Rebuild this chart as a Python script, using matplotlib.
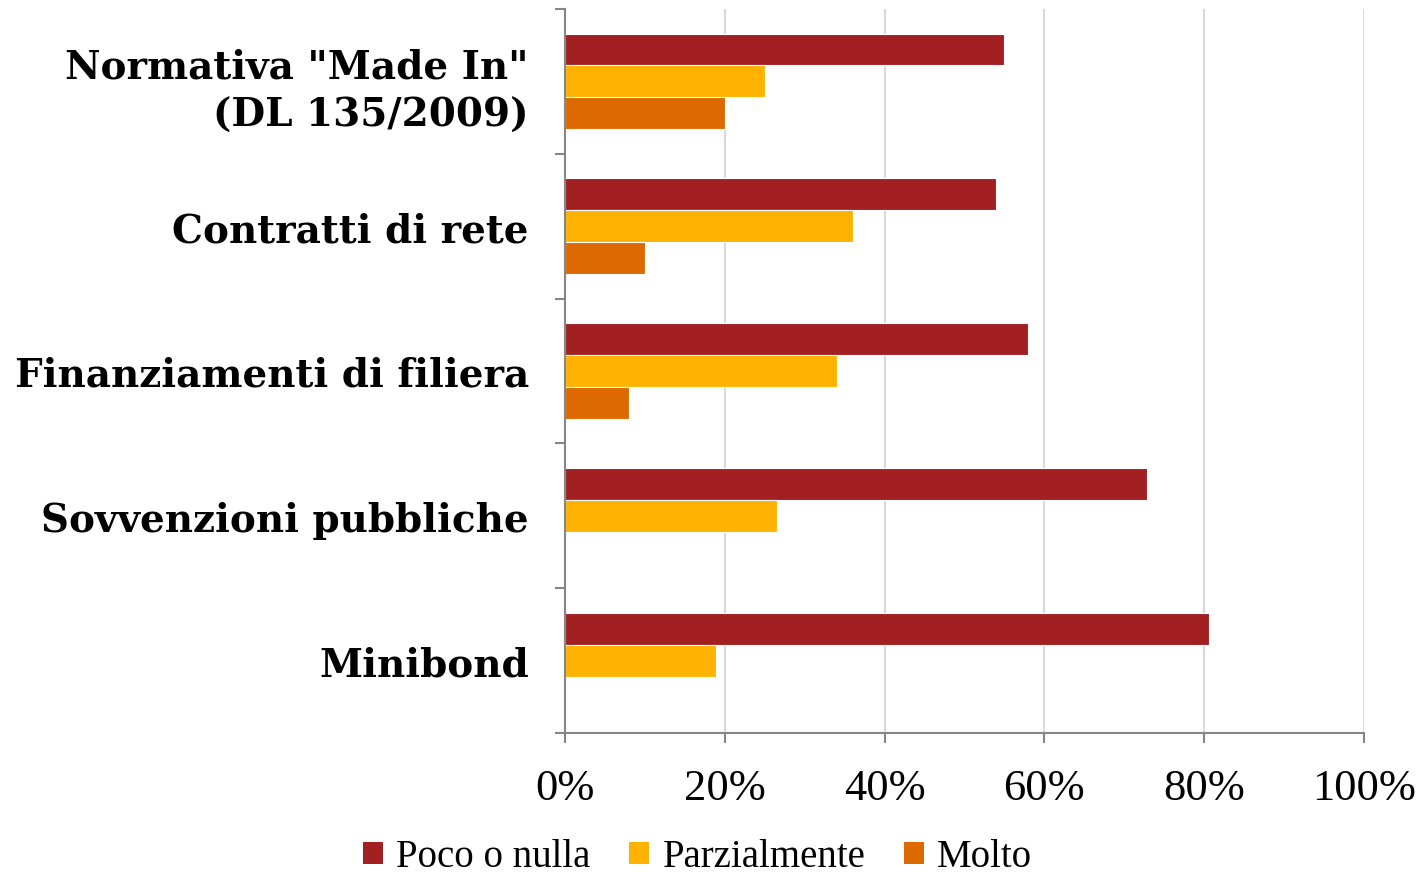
import matplotlib
matplotlib.use("Agg")
import matplotlib.pyplot as plt
import numpy as np
from matplotlib.ticker import PercentFormatter, FixedLocator

categories = ['Normativa "Made In"\n(DL 135/2009)', "Contratti di rete",
              "Finanziamenti di filiera", "Sovvenzioni pubbliche", "Minibond"]
series_names = ["Poco o nulla", "Parzialmente", "Molto"]
poco = [55, 54, 58, 72.8, 80.6]
parz = [25, 36, 34, 26.5, 18.9]
molto = [20, 10, 8, 0, 0]
colors = ["#A21F22", "#FFB300", "#DD6A00"]

fig = plt.figure(figsize=(14.27, 8.79), dpi=100)
ax = fig.add_axes([565 / 1427, 1 - 734 / 879, (1364 - 565) / 1427, (734 - 10) / 879])

y = np.arange(len(categories))
h = 0.22
for i, (vals, name, col) in enumerate(zip([poco, parz, molto], series_names, colors)):
    ax.barh(y + (i - 1) * h, vals, height=h, color=col, edgecolor="white",
            linewidth=0.8, label=name, zorder=3)

ax.set_xlim(0, 100)
ax.set_ylim(len(categories) - 0.5, -0.5)

grey = "#868686"
ax.xaxis.set_major_locator(FixedLocator(np.arange(0, 101, 20)))
ax.xaxis.set_major_formatter(PercentFormatter(decimals=0))
ax.grid(axis="x", color="#D9D9D9", linewidth=1.5, zorder=0)
ax.set_axisbelow(True)

ax.set_yticks(y)
ax.set_yticklabels(categories, fontfamily="DejaVu Serif", fontweight="bold",
                   fontsize=28, linespacing=1.35)
ax.tick_params(axis="y", length=0, pad=26)
ax.set_yticks(np.arange(-0.5, len(categories)), minor=True)
ax.tick_params(axis="y", which="minor", length=7.5, width=1.5, color=grey, direction="out")

ax.tick_params(axis="x", length=7.5, width=1.5, color=grey, direction="out", pad=18)
for lab in ax.get_xticklabels():
    lab.set_fontfamily("Liberation Serif")
    lab.set_fontsize(32)

for side in ("top", "right"):
    ax.spines[side].set_visible(False)
for side in ("left", "bottom"):
    ax.spines[side].set_color(grey)
    ax.spines[side].set_linewidth(1.5)
    ax.spines[side].set_zorder(5)

leg = fig.legend(loc="center", bbox_to_anchor=(0.489, 1 - 858 / 879), ncol=3,
                 frameon=False, prop={"family": "Liberation Serif", "size": 28},
                 handlelength=0.5, handleheight=0.5, handletextpad=0.35,
                 columnspacing=1.0, borderpad=0.1)
for p in leg.get_patches():
    p.set_edgecolor("none")

fig.savefig("out.png", dpi=100)
